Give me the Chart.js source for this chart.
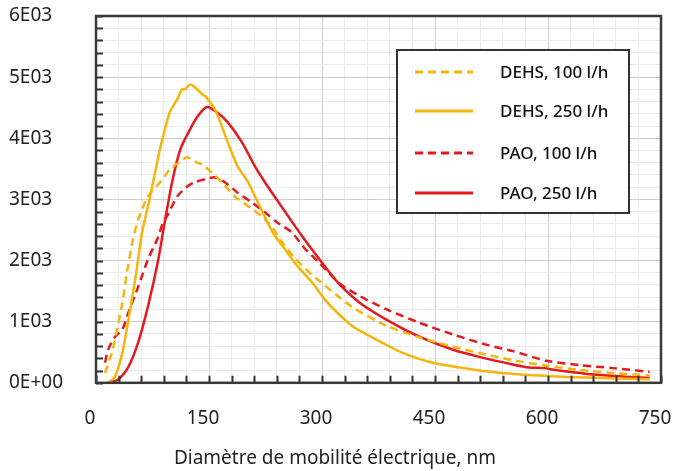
<!DOCTYPE html>
<html>
<head>
<meta charset="utf-8">
<script src="https://cdn.jsdelivr.net/npm/chart.js@4/dist/chart.umd.min.js"></script>
<style>
  html, body { margin: 0; padding: 0; background: #fff; }
</style>
</head>
<body>
<canvas id="myChart" width="675" height="471"></canvas>
<script>
// diameter (nm) / concentration values
const dehs100X = [12, 21, 28, 35, 41, 49, 56, 69, 85, 98, 111, 121, 131, 141, 149, 167, 184, 202, 220, 234, 247, 264, 281, 297, 324, 341, 386, 430, 474, 519, 553, 598, 642, 686, 735];
const dehs100Y = [160, 490, 870, 1310, 1800, 2340, 2670, 3050, 3280, 3490, 3610, 3690, 3620, 3570, 3490, 3280, 3050, 2890, 2720, 2540, 2300, 2040, 1830, 1660, 1390, 1230, 930, 740, 590, 460, 370, 280, 210, 160, 120];

const dehs250X = [16, 25, 35, 43, 52, 61, 65, 72, 82, 89, 98, 108, 114, 118, 125, 131, 141, 145, 158, 167, 175, 188, 202, 211, 224, 235, 251, 268, 287, 304, 320, 341, 373, 407, 443, 483, 523, 560, 600, 650, 735];
const dehs250Y = [0, 100, 490, 1030, 1690, 2450, 2670, 3050, 3660, 4030, 4430, 4640, 4800, 4800, 4880, 4840, 4720, 4690, 4470, 4200, 3930, 3540, 3280, 3050, 2720, 2450, 2180, 1900, 1640, 1360, 1150, 920, 700, 490, 340, 250, 180, 140, 110, 85, 60];

const pao100X = [12, 16, 25, 35, 43, 56, 69, 81, 89, 94, 108, 121, 131, 145, 158, 171, 188, 207, 224, 241, 260, 277, 295, 324, 350, 386, 430, 474, 519, 553, 598, 642, 686, 735];
const pao100Y = [330, 540, 750, 870, 1150, 1570, 2020, 2340, 2620, 2720, 3050, 3210, 3280, 3330, 3360, 3280, 3110, 2950, 2790, 2620, 2460, 2200, 1980, 1620, 1420, 1200, 980, 790, 620, 520, 360, 290, 240, 180];

const pao250X = [16, 29, 43, 56, 69, 82, 90, 101, 112, 125, 135, 147, 160, 175, 194, 211, 228, 247, 261, 273, 291, 304, 324, 350, 386, 430, 474, 510, 553, 575, 595, 610, 665, 709, 735];
const pao250Y = [0, 50, 260, 660, 1250, 1970, 2540, 3280, 3820, 4150, 4360, 4510, 4430, 4260, 3930, 3540, 3210, 2870, 2620, 2410, 2110, 1900, 1600, 1310, 1030, 750, 540, 420, 300, 250, 240, 210, 130, 95, 80];

const seriesLabels = ['DEHS, 100 l/h', 'DEHS, 250 l/h', 'PAO, 100 l/h', 'PAO, 250 l/h'];

const YELLOW = '#F5B50C';
const RED = '#E31B1E';

function points(xs, ys) {
  return xs.map((x, i) => ({ x: x, y: ys[i] }));
}

// inward tick marks, box frame and the boxed legend inside the plot
const frame = {
  id: 'frame',
  afterDatasetsDraw: (chart) => {
    const { ctx, chartArea: { left, right, top, bottom }, scales: { x, y } } = chart;
    ctx.save();
    ctx.strokeStyle = '#333';
    ctx.lineWidth = 2;
    ctx.beginPath();
    x.ticks.forEach(t => {
      const px = Math.round(x.getPixelForValue(t.value)) + 0.5;
      ctx.moveTo(px, bottom);
      ctx.lineTo(px, bottom - 7);
    });
    y.ticks.forEach(t => {
      const py = Math.round(y.getPixelForValue(t.value)) + 0.5;
      ctx.moveTo(left, py);
      ctx.lineTo(left + 7, py);
    });
    ctx.stroke();

    ctx.lineWidth = 2.5;
    ctx.strokeStyle = '#3a3a3a';
    ctx.strokeRect(left, top, right - left, bottom - top);

    // legend
    const bx = right - 264, by = top + 34, bw = 232, bh = 163;
    ctx.fillStyle = '#fff';
    ctx.fillRect(bx, by, bw, bh);
    ctx.lineWidth = 2;
    ctx.strokeStyle = '#333';
    ctx.strokeRect(bx, by, bw, bh);
    const rows = [22, 61, 103, 143];
    chart.data.datasets.forEach((ds, i) => {
      const ly = by + rows[i];
      ctx.beginPath();
      ctx.strokeStyle = ds.borderColor;
      ctx.lineWidth = 3;
      ctx.setLineDash(ds.borderDash || []);
      ctx.moveTo(bx + 18, ly);
      ctx.lineTo(bx + 76, ly);
      ctx.stroke();
      ctx.setLineDash([]);
      ctx.fillStyle = '#111';
      ctx.font = '500 17px "Noto Sans"';
      ctx.textBaseline = 'middle';
      ctx.fillText(ds.label, bx + 103, ly + 1);
    });
    ctx.restore();
  }
};

const config = {
  type: 'line',
  data: {
    datasets: [
      {
        label: seriesLabels[0],
        data: points(dehs100X, dehs100Y),
        borderColor: YELLOW,
        borderDash: [8, 5],
      },
      {
        label: seriesLabels[1],
        data: points(dehs250X, dehs250Y),
        borderColor: YELLOW,
      },
      {
        label: seriesLabels[2],
        data: points(pao100X, pao100Y),
        borderColor: RED,
        borderDash: [8, 5],
      },
      {
        label: seriesLabels[3],
        data: points(pao250X, pao250Y),
        borderColor: RED,
      }
    ]
  },
  options: {
    responsive: false,
    animation: false,
    layout: {
      padding: { left: 9, right: 14, top: 16, bottom: 0 }
    },
    elements: {
      line: { borderWidth: 2.5, tension: 0.25, fill: false },
      point: { radius: 0 }
    },
    scales: {
      x: {
        type: 'linear',
        min: 0,
        max: 750,
        afterFit: (scale) => {
          scale.height = 62.4;
          scale.paddingLeft = 0;
          scale.paddingRight = 0;
        },
        border: { display: false },
        grid: {
          drawTicks: false,
          color: (c) => c.tick && c.tick.value % 150 === 0 ? '#cdcdcd' : '#ebebeb',
        },
        ticks: {
          stepSize: 30,
          autoSkip: false,
          maxRotation: 0,
          padding: 24,
          labelOffset: -6,
          color: '#222',
          font: { family: 'Noto Sans', size: 19 },
          callback: (v) => v % 150 === 0 ? String(v) : '',
        },
      },
      y: {
        min: 0,
        max: 6000,
        afterFit: (scale) => {
          scale.width = 87;
          scale.paddingTop = 0;
          scale.paddingBottom = 0;
        },
        border: { display: false },
        grid: {
          drawTicks: false,
          color: (c) => c.tick && c.tick.value % 1000 === 0 ? '#cdcdcd' : '#ebebeb',
        },
        ticks: {
          stepSize: 200,
          autoSkip: false,
          crossAlign: 'far',
          color: '#222',
          font: { family: 'Noto Sans', size: 19 },
          callback: (v) => v % 1000 !== 0 ? '' : (v === 0 ? '0E+00' : (v / 1000) + 'E03'),
        },
      },
    },
    plugins: {
      legend: { display: false },
      tooltip: { enabled: false },
      title: {
        display: true,
        position: 'bottom',
        text: 'Diamètre de mobilité électrique, nm',
        color: '#222',
        font: { family: 'Noto Sans', size: 19, weight: 'normal' },
        padding: { top: 2, bottom: 1 },
      },
    },
  },
  plugins: [frame]
};

new Chart(document.getElementById('myChart').getContext('2d'), config);
</script>
</body>
</html>
